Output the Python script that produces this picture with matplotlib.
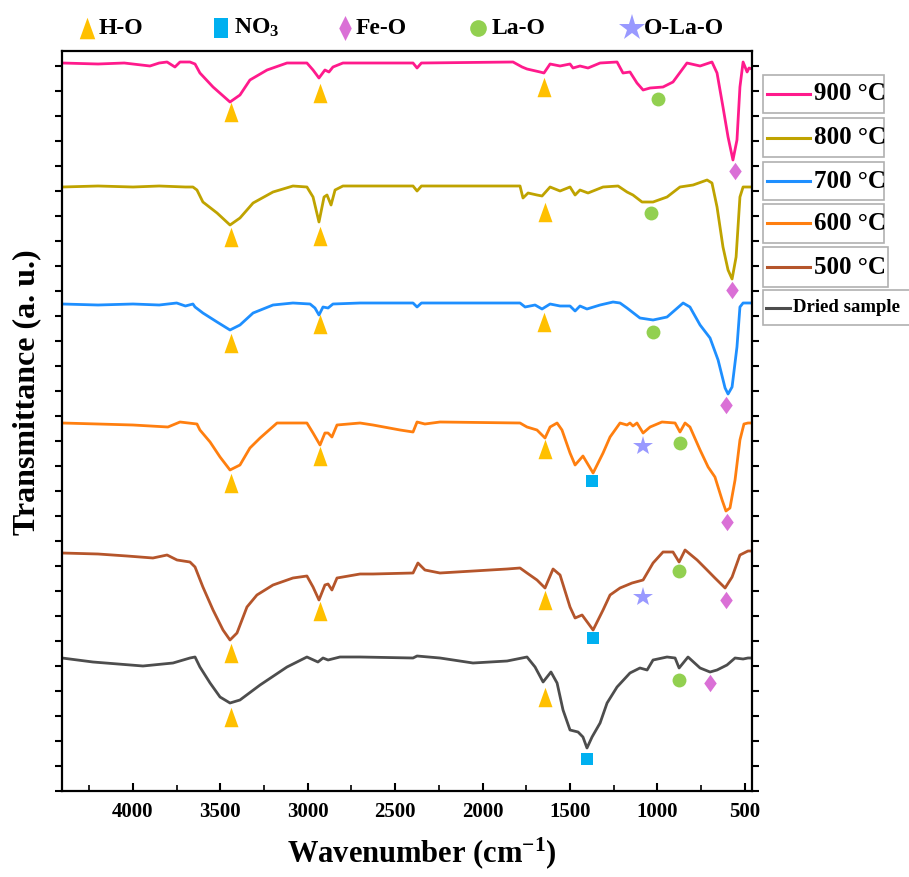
import matplotlib
matplotlib.use("Agg")
import matplotlib.pyplot as plt
from matplotlib.ticker import MultipleLocator, NullFormatter
from matplotlib.patches import Rectangle
from matplotlib.lines import Line2D

plt.rcParams['font.family'] = ['Liberation Serif', 'DejaVu Serif']
plt.rcParams['font.weight'] = 'bold'
plt.rcParams['mathtext.fontset'] = 'custom'
plt.rcParams['mathtext.rm'] = 'Liberation Serif:bold'
plt.rcParams['mathtext.bf'] = 'Liberation Serif:bold'
plt.rcParams['mathtext.it'] = 'Liberation Serif:bold'

# ---------------- data (wavenumber cm-1, stacked transmittance a.u.) ----------------
w900 = [4406, 4200, 4050, 3903, 3850, 3805, 3760, 3731, 3674, 3645, 3617, 3542, 3445, 3388, 3331, 3233,
        3119, 3005, 2970, 2936, 2902, 2879, 2856, 2799, 2701, 2398, 2375, 2350, 1826, 1774, 1746, 1671,
        1649, 1614, 1557, 1500, 1483, 1443, 1397, 1328, 1231, 1197, 1157, 1117, 1082, 1042, 968, 911,
        831, 756, 688, 659, 625, 596, 568, 545, 528, 510, 487, 476, 459]
t900 = [728, 727, 728, 725, 728, 729, 724, 729, 729, 727, 718, 704, 689, 696, 711, 721,
        728, 728, 721, 713, 721, 719, 724, 728, 728, 728, 723, 728, 729, 724, 722, 719,
        718, 727, 725, 727, 723, 725, 723, 728, 729, 718, 719, 708, 701, 703, 704, 709,
        728, 725, 729, 718, 684, 654, 631, 651, 704, 729, 719, 723, 722]

w800 = [4406, 4200, 4000, 3850, 3700, 3657, 3634, 3600, 3519, 3445, 3388, 3313, 3199, 3085, 3005, 2970,
        2936, 2907, 2890, 2867, 2844, 2799, 2701, 2398, 2375, 2350, 1786, 1769, 1740, 1689, 1660, 1614,
        1557, 1500, 1471, 1443, 1397, 1311, 1225, 1174, 1140, 1088, 1025, 945, 871, 796, 716, 688,
        659, 625, 596, 573, 550, 528, 510, 482, 459]
t800 = [604, 605, 604, 605, 604, 604, 601, 589, 578, 566, 573, 588, 599, 605, 604, 594,
        569, 594, 596, 586, 601, 605, 605, 605, 600, 605, 605, 593, 598, 596, 595, 604,
        600, 604, 596, 601, 598, 604, 605, 599, 596, 589, 589, 594, 604, 606, 611, 608,
        584, 544, 521, 512, 534, 594, 604, 604, 604]

w700 = [4406, 4200, 4000, 3850, 3750, 3700, 3657, 3645, 3600, 3519, 3445, 3388, 3313, 3199, 3085, 2987,
        2959, 2936, 2913, 2884, 2856, 2701, 2398, 2375, 2350, 1786, 1757, 1700, 1660, 1614, 1557, 1500,
        1471, 1443, 1403, 1328, 1254, 1214, 1174, 1100, 1025, 945, 853, 814, 756, 699, 653, 613,
        596, 573, 545, 528, 510, 482, 459]
t700 = [487, 486, 487, 486, 488, 485, 487, 484, 478, 469, 461, 466, 478, 486, 488, 487,
        483, 476, 484, 483, 487, 488, 488, 484, 488, 488, 484, 486, 482, 487, 485, 485,
        480, 485, 482, 486, 489, 488, 483, 473, 471, 474, 488, 484, 466, 453, 431, 403,
        397, 404, 444, 484, 488, 488, 488]

w600 = [4406, 4200, 4000, 3900, 3800, 3731, 3634, 3617, 3559, 3502, 3445, 3388, 3331, 3273, 3176, 3005,
        2970, 2930, 2902, 2884, 2862, 2833, 2701, 2627, 2472, 2398, 2375, 2330, 2244, 1786, 1746, 1689,
        1643, 1614, 1574, 1546, 1500, 1471, 1426, 1368, 1311, 1271, 1214, 1174, 1157, 1140, 1117, 1082,
        1042, 974, 899, 871, 842, 814, 756, 710, 671, 630, 608, 585, 556, 528, 505, 482, 459]
t600 = [368, 367, 366, 365, 364, 369, 367, 361, 349, 334, 321, 326, 343, 353, 368, 368,
        358, 346, 358, 358, 354, 366, 368, 366, 361, 359, 369, 367, 369, 368, 364, 361,
        353, 364, 368, 361, 338, 326, 335, 318, 338, 354, 368, 366, 368, 365, 368, 358,
        364, 369, 368, 359, 368, 364, 341, 324, 314, 291, 280, 283, 311, 351, 367, 368, 368]

w500 = [4406, 4200, 4034, 3886, 3805, 3748, 3674, 3645, 3600, 3542, 3485, 3445, 3405, 3348, 3291, 3199,
        3085, 3005, 2970, 2936, 2902, 2884, 2862, 2833, 2701, 2627, 2398, 2370, 2330, 2244, 1860, 1786,
        1746, 1689, 1643, 1597, 1557, 1500, 1471, 1431, 1368, 1311, 1271, 1214, 1145, 1082, 1025, 968,
        911, 876, 842, 773, 716, 671, 613, 573, 528, 482, 459]
t500 = [238, 237, 235, 233, 236, 231, 229, 224, 204, 181, 161, 151, 158, 184, 196, 206,
        213, 215, 204, 191, 206, 207, 201, 213, 217, 217, 218, 228, 221, 218, 222, 223,
        218, 211, 203, 222, 216, 184, 173, 176, 161, 181, 196, 203, 208, 211, 228, 239,
        239, 229, 241, 231, 221, 213, 203, 214, 236, 240, 240]

wdry = [4406, 4229, 3943, 3771, 3674, 3645, 3617, 3559, 3502, 3445, 3388, 3273, 3119, 3005, 2942, 2913,
        2884, 2816, 2701, 2398, 2375, 2244, 2055, 1860, 1746, 1700, 1654, 1609, 1574, 1540, 1500, 1454,
        1426, 1403, 1374, 1328, 1288, 1231, 1157, 1100, 1059, 1025, 945, 899, 876, 825, 756, 699,
        659, 602, 556, 510, 482, 459]
tdry = [133, 129, 125, 128, 133, 134, 124, 108, 94, 88, 91, 106, 124, 134, 129, 133,
        131, 134, 134, 133, 135, 133, 128, 130, 134, 124, 109, 119, 108, 81, 61, 59,
        54, 43, 54, 68, 88, 104, 118, 123, 121, 131, 134, 133, 123, 134, 123, 119,
        121, 126, 133, 132, 133, 133]

series_labels = ['900 \u00b0C', '800 \u00b0C', '700 \u00b0C', '600 \u00b0C', '500 \u00b0C', 'Dried sample']
series_colors = ['#FF1A8C', '#BFA300', '#1E8FFF', '#FF7F0F', '#B5552B', '#4D4D4D']

# band assignment markers (wavenumber, a.u.)
ho_w = [3439, 2930, 1649, 3439, 2930, 1643, 3439, 2930, 1649, 3439, 2930, 1643, 3439, 2930, 1643, 3439, 1643]
ho_t = [679, 698, 704, 554, 555, 579, 448, 467, 469, 308, 335, 342, 138, 180, 191, 74, 94]
no3_w = [1374, 1368, 1403]
no3_t = [310, 153, 32]
feo_w = [556, 573, 607, 602, 608, 699]
feo_t = [620, 501, 386, 269, 191, 108]
lao_w = [996, 1037, 1025, 871, 876, 876]
lao_t = [692, 578, 459, 348, 220, 111]
olao_w = [1082, 1082]
olao_t = [345, 194]

band_labels = ['H-O', 'NO$_3$', 'Fe-O', 'La-O', 'O-La-O']
band_colors = ['#FFC000', '#00B0F0', '#DA70D6', '#92D050', '#9999FF']

# ---------------- figure ----------------
fig = plt.figure(figsize=(9.09, 8.77), dpi=100)
ax = fig.add_axes([62 / 909, 1 - 791 / 877, 690 / 909, 740 / 877])

all_w = [w900, w800, w700, w600, w500, wdry]
all_t = [t900, t800, t700, t600, t500, tdry]
for w, t, c in zip(all_w, all_t, series_colors):
    ax.plot(w, t, color=c, lw=2.0, solid_joinstyle='round')

tri = [(-0.36, -0.5), (0.36, -0.5), (0.0, 0.5)]
dia = [(0.0, 0.5), (0.36, 0.0), (0.0, -0.5), (-0.36, 0.0)]
mk = [(tri, 14), ('s', 8), (dia, 12.5), ('o', 10), ('*', 15)]
pos = [(ho_w, ho_t), (no3_w, no3_t), (feo_w, feo_t), (lao_w, lao_t), (olao_w, olao_t)]
for (m, ms), (pw, pt), c in zip(mk, pos, band_colors):
    ax.plot(pw, pt, ls='none', marker=m, ms=ms, color=c, mec=c, mew=0)

ax.set_xlim(4406, 459)
ax.set_ylim(0, 740)
ax.xaxis.set_major_locator(MultipleLocator(500))
ax.xaxis.set_minor_locator(MultipleLocator(250))
ax.yaxis.set_major_locator(MultipleLocator(25))
ax.yaxis.set_major_formatter(NullFormatter())
ax.tick_params(axis='x', which='major', direction='in', length=6, width=1.5, labelsize=15, pad=8)
ax.tick_params(axis='x', which='minor', direction='in', length=4, width=1.2)
ax.tick_params(axis='y', which='major', direction='out', length=5, width=1.5, left=True, right=True)
for lab in ax.get_xticklabels():
    lab.set_fontweight('bold')
for s in ax.spines.values():
    s.set_linewidth(1.6)

# axis titles
fig.text(27 / 909, 1 - 392 / 877, 'Transmittance (a. u.)', rotation=90, ha='center', va='center',
         fontsize=23, fontweight='bold')
fig.text(422 / 909, 1 - 853 / 877, 'Wavenumber (cm$^{-1}$)', ha='center', va='center',
         fontsize=22, fontweight='bold')

# top band legend
rect = [(-0.36, -0.5), (0.36, -0.5), (0.36, 0.5), (-0.36, 0.5)]
dia_l = [(0.0, 0.5), (0.25, 0.0), (0.0, -0.5), (-0.25, 0.0)]
ell = [(0.42 * c_, 0.5 * s_) for c_, s_ in
       [(1, 0), (0.866, 0.5), (0.5, 0.866), (0, 1), (-0.5, 0.866), (-0.866, 0.5), (-1, 0),
        (-0.866, -0.5), (-0.5, -0.866), (0, -1), (0.5, -0.866), (0.866, -0.5)]]
leg_mk = [(tri, 15.5), (rect, 14), (dia_l, 18), ('o', 12), ('*', 20)]
leg_mx = [87, 221, 345, 478, 632]
leg_tx = [99, 234, 356, 492, 644]
ly = 1 - 28 / 877
for (m, ms), c, mxp, txp, lab in zip(leg_mk, band_colors, leg_mx, leg_tx, band_labels):
    fig.add_artist(Line2D([mxp / 909], [ly], ls='none', marker=m, ms=ms, color=c, mew=0,
                          transform=fig.transFigure))
    fig.text(txp / 909, ly, lab, ha='left', va='center', fontsize=17, fontweight='bold')

# right series legend (separate boxes)
boxes = [(75, 113, 121), (118, 157, 121), (162, 200, 121), (204, 243, 121), (247, 287, 125), (290, 325, 160)]
for (top, bot, wd), lab, c in zip(boxes, series_labels, series_colors):
    fig.add_artist(Rectangle((763 / 909, 1 - bot / 877), wd / 909, (bot - top) / 877,
                             transform=fig.transFigure, fc='white', ec='#B0B0B0', lw=1.2))
    yc = 1 - ((top + bot) / 2) / 877
    if lab == 'Dried sample':
        fig.add_artist(Line2D([766 / 909, 790 / 909], [yc, yc], color=c, lw=2.2, transform=fig.transFigure))
        fig.text(793 / 909, yc, lab, ha='left', va='center', fontsize=13.5, fontweight='bold')
    else:
        fig.add_artist(Line2D([767 / 909, 810 / 909], [yc, yc], color=c, lw=2.2, transform=fig.transFigure))
        fig.text(814 / 909, yc, lab, ha='left', va='center', fontsize=18, fontweight='bold')

fig.savefig('out.png', dpi=100)
